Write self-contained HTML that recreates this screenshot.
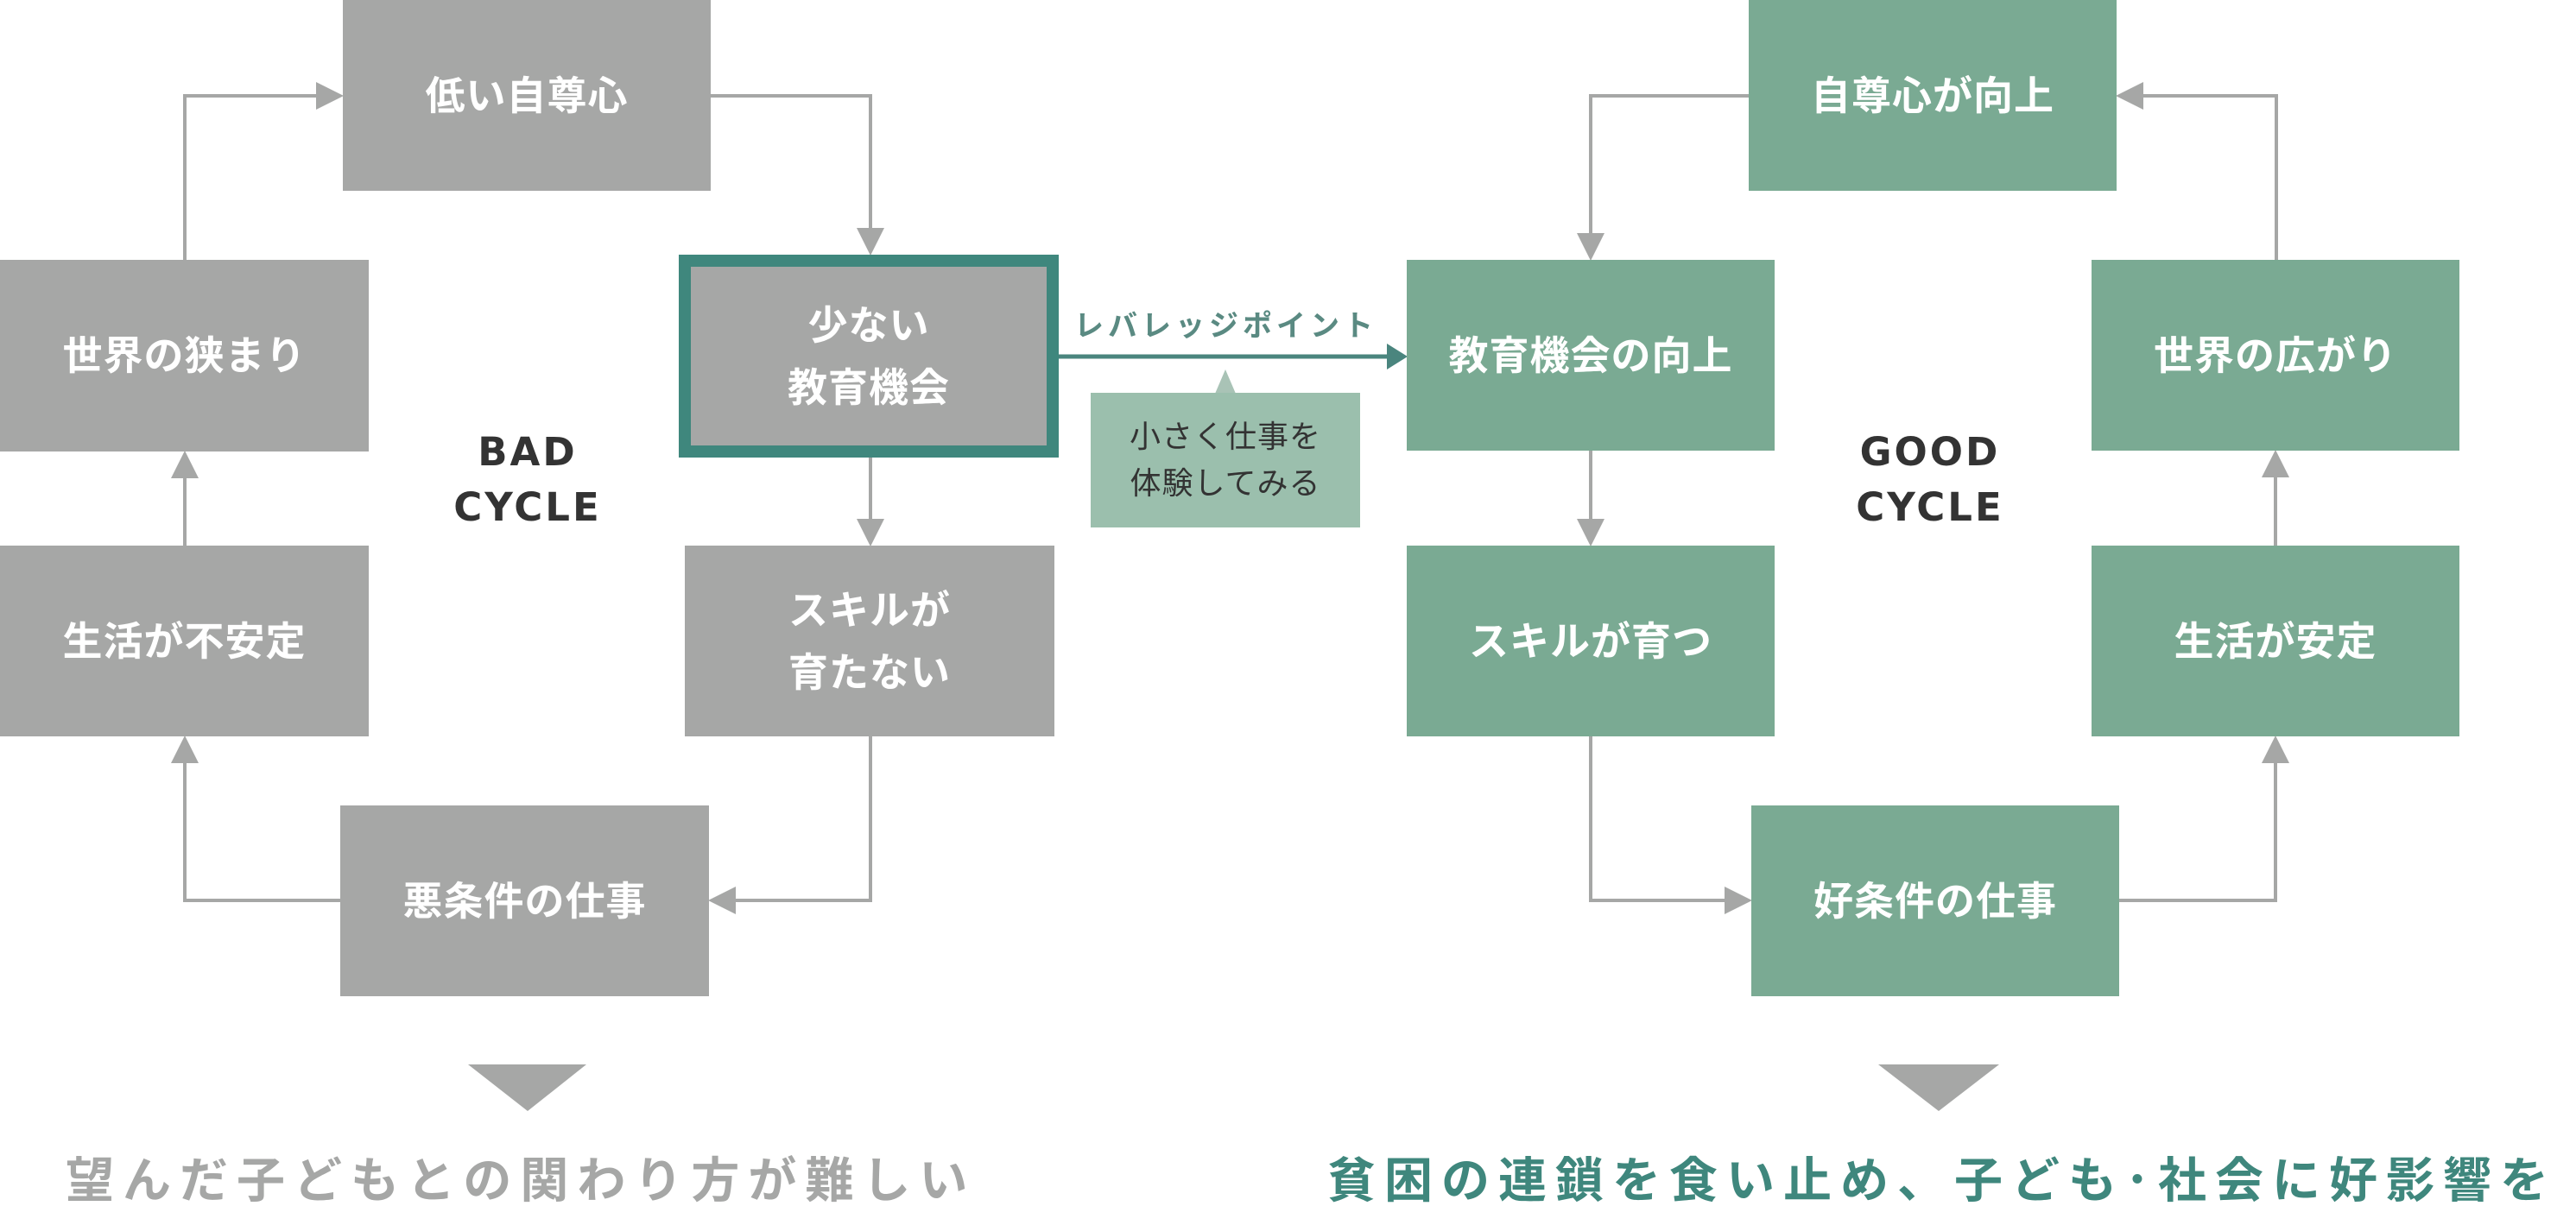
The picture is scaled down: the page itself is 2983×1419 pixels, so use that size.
<!DOCTYPE html>
<html><head><meta charset="utf-8">
<style>
html,body{margin:0;padding:0;background:#fff;}
body{width:2983px;height:1419px;position:relative;overflow:hidden;font-family:"Liberation Sans","Noto Sans CJK JP",sans-serif;}
.b{position:absolute;display:flex;align-items:center;justify-content:center;text-align:center;color:#fff;font-weight:bold;font-size:46px;line-height:72px;letter-spacing:1px;box-sizing:border-box;}
.g{background:#a6a7a6;}
.t{background:#7aaa93;}
.lbl{position:absolute;text-align:center;font-weight:bold;color:#333;font-size:45px;letter-spacing:3px;line-height:64px;font-family:"DejaVu Sans","Liberation Sans",sans-serif;}
.bot{position:absolute;font-weight:bold;font-size:56px;letter-spacing:10px;white-space:nowrap;top:1336px;line-height:64px;}
</style></head><body>
<svg width="2983" height="1419" style="position:absolute;left:0;top:0">
<defs>
<marker id="ag" markerWidth="8" markerHeight="8" refX="7" refY="4" orient="auto" markerUnits="strokeWidth"><path d="M0,0 L8,4 L0,8 z" fill="#a6a7a6"/></marker>
</defs>
<g stroke="#a6a7a6" stroke-width="4" fill="none">
<polyline points="822,111 1008,111 1008,292" marker-end="url(#ag)"/>
<polyline points="1008,530 1008,629" marker-end="url(#ag)"/>
<polyline points="1008,853 1008,1043 824,1043" marker-end="url(#ag)"/>
<polyline points="394,1043 214,1043 214,856" marker-end="url(#ag)"/>
<polyline points="214,632 214,526" marker-end="url(#ag)"/>
<polyline points="214,301 214,111 394,111" marker-end="url(#ag)"/>
<polyline points="2025,111 1842,111 1842,298" marker-end="url(#ag)"/>
<polyline points="1842,522 1842,629" marker-end="url(#ag)"/>
<polyline points="1842,853 1842,1043 2025,1043" marker-end="url(#ag)"/>
<polyline points="2454,1043 2635,1043 2635,856" marker-end="url(#ag)"/>
<polyline points="2635,632 2635,525" marker-end="url(#ag)"/>
<polyline points="2636,301 2636,111 2454,111" marker-end="url(#ag)"/>
</g>
<line x1="1226" y1="413" x2="1608" y2="413" stroke="#4a857e" stroke-width="5"/>
<path d="M1606,398 L1630,413 L1606,428 z" fill="#4a857e"/>
<path d="M1407,456 L1419,428 L1431,456 z" fill="#a9c3b6"/>
<path d="M542,1233 L679,1233 L611,1287 z" fill="#a6a7a6"/>
<path d="M2175,1233 L2315,1233 L2245,1287 z" fill="#a6a7a6"/>
</svg>

<div class="b g" style="left:397px;top:0;width:426px;height:221px;">低い自尊心</div>
<div class="b g" style="left:0;top:301px;width:427px;height:222px;">世界の狭まり</div>
<div class="b g" style="left:0;top:632px;width:427px;height:221px;">生活が不安定</div>
<div class="b g" style="left:394px;top:933px;width:427px;height:221px;">悪条件の仕事</div>
<div class="b g" style="left:786px;top:295px;width:440px;height:235px;border:14px solid #3f877d;">少ない<br>教育機会</div>
<div class="b g" style="left:793px;top:632px;width:428px;height:221px;">スキルが<br>育たない</div>
<div class="lbl" style="left:511px;top:492px;width:200px;">BAD<br>CYCLE</div>

<div style="position:absolute;left:1244px;top:354px;font-size:34px;font-weight:bold;color:#5a8a82;letter-spacing:5px;white-space:nowrap;line-height:48px;">レバレッジポイント</div>
<div style="position:absolute;left:1263px;top:455px;width:312px;height:156px;background:#9bbfad;color:#333;font-size:36px;line-height:54px;text-align:center;display:flex;align-items:center;justify-content:center;letter-spacing:1px;">小さく仕事を<br>体験してみる</div>

<div class="b t" style="left:2025px;top:0;width:426px;height:221px;">自尊心が向上</div>
<div class="b t" style="left:1629px;top:301px;width:426px;height:221px;">教育機会の向上</div>
<div class="b t" style="left:1629px;top:632px;width:426px;height:221px;">スキルが育つ</div>
<div class="b t" style="left:2028px;top:933px;width:426px;height:221px;">好条件の仕事</div>
<div class="b t" style="left:2422px;top:301px;width:426px;height:221px;">世界の広がり</div>
<div class="b t" style="left:2422px;top:632px;width:426px;height:221px;">生活が安定</div>
<div class="lbl" style="left:2125px;top:492px;width:220px;">GOOD<br>CYCLE</div>

<div class="bot" style="left:76px;color:#a6a7a6;">望んだ子どもとの関わり方が難しい</div>
<div class="bot" style="left:1537px;color:#3f877d;">貧困の連鎖を食い止め、子ども･社会に好影響を</div>
</body></html>
